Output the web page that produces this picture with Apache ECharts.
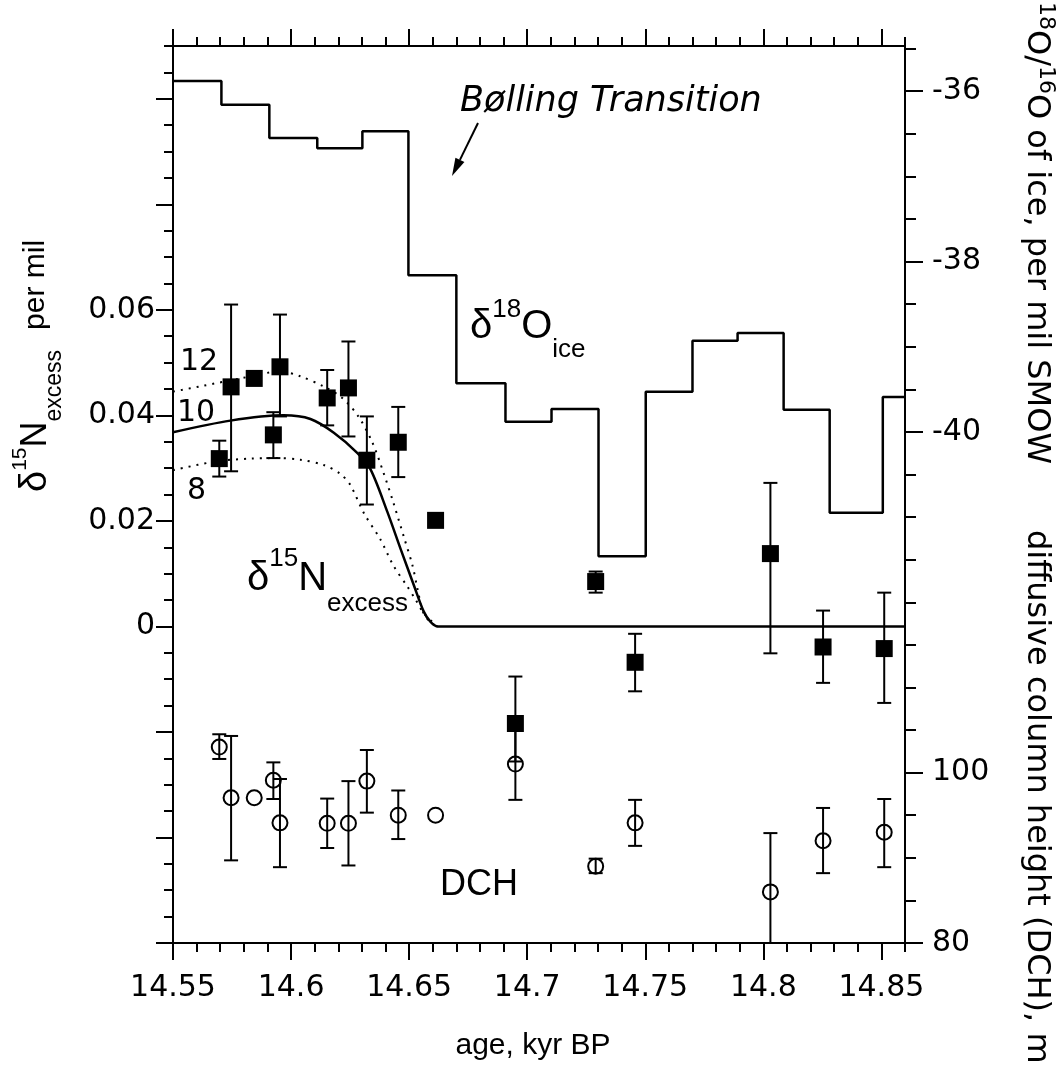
<!DOCTYPE html>
<html>
<head>
<meta charset="utf-8">
<script src="https://cdn.jsdelivr.net/npm/echarts@6/dist/echarts.min.js"></script>
<style>
  html, body { margin: 0; padding: 0; background: #fff; }
  #chart { width: 1062px; height: 1066px; }
</style>
</head>
<body>
<div id="chart"></div>
<script>
// samples: age (kyr BP), d15N excess (per mil) and DCH (m), with error bar ends
const ages = [14.5696, 14.5746, 14.5844, 14.5925, 14.5953, 14.6153, 14.6243, 14.6321, 14.6454, 14.6612, 14.695, 14.729, 14.7457, 14.803, 14.8253, 14.8512];
const n15Excess = [0.0318, 0.0454, 0.0470, 0.0363, 0.0492, 0.0433, 0.0452, 0.0315, 0.0349, 0.0201, -0.0184, 0.0085, -0.0068, 0.0138, -0.0039, -0.0042];
const n15Low = [0.0284, 0.0294, null, 0.0319, 0.0398, 0.0381, 0.0360, 0.0231, 0.0283, null, -0.0256, 0.0064, -0.0123, -0.0051, -0.0107, -0.0145];
const n15High = [0.0352, 0.0610, null, 0.0406, 0.0591, 0.0486, 0.0540, 0.0398, 0.0416, null, -0.0095, 0.0104, -0.0014, 0.0272, 0.0030, 0.0064];
const dch = [103.0, 97.05, 97.05, 99.1, 94.1, 94.05, 94.05, 99.0, 95.0, 95.0, 101.0, 89.0, 94.1, 86.0, 92.0, 93.0];
const dchLow = [101.6, 89.7, null, 96.9, 88.9, 91.15, 89.1, 95.3, 92.2, null, 96.8, 88.2, 91.4, 78.0, 88.2, 88.9];
const dchHigh = [104.5, 104.3, null, 101.2, 99.25, 96.95, 99.0, 102.65, 97.9, null, 105.2, 89.9, 96.8, 92.9, 95.85, 96.9];

// d18O of ice, one value per depth interval (start age of each step)
const o18Start = [14.55, 14.5705, 14.5908, 14.6111, 14.6302, 14.6497, 14.67, 14.6908, 14.7103, 14.7302, 14.7502, 14.77, 14.7891, 14.8086, 14.8281, 14.8506];
const o18Ice = [-35.88, -36.16, -36.55, -36.67, -36.47, -38.16, -39.43, -39.88, -39.73, -41.46, -39.53, -38.93, -38.84, -39.74, -40.95, -39.59];

// model d15N excess curves for DCH = 10, 12, 8 m
const model10Age = [14.55, 14.5743, 14.5969, 14.6082, 14.6181, 14.628, 14.6336, 14.6407, 14.6463, 14.652, 14.6562, 14.659, 14.6619, 14.86];
const model10 = [0.0368, 0.0390, 0.0400, 0.0393, 0.0367, 0.0329, 0.0298, 0.0218, 0.0148, 0.0078, 0.0028, 0.0009, 0, 0];
const model12Age = [14.55, 14.5628, 14.5785, 14.5955, 14.6039, 14.6137, 14.6217, 14.6285, 14.6344, 14.6391, 14.6433, 14.6476, 14.6514, 14.6535, 14.656, 14.659, 14.6619];
const model12 = [0.0445, 0.0456, 0.0470, 0.0483, 0.0474, 0.0455, 0.0433, 0.0398, 0.0349, 0.0292, 0.0235, 0.0172, 0.0116, 0.0072, 0.0026, 0.0008, 0];
const model8Age = [14.55, 14.5686, 14.5828, 14.5941, 14.6039, 14.6138, 14.6209, 14.6251, 14.6308, 14.6378, 14.6435, 14.6492, 14.6527, 14.6562, 14.6619];
const model8 = [0.0296, 0.0313, 0.0318, 0.0319, 0.0316, 0.0306, 0.0289, 0.0268, 0.0215, 0.0165, 0.0114, 0.0076, 0.0051, 0.0025, 0];

// axis ranges and tick labels
const ageMin = 14.55, ageMax = 14.86;
const ageLabels = [14.55, 14.6, 14.65, 14.7, 14.75, 14.8, 14.85];
const n15Min = -0.06, n15Max = 0.11;
const n15Major = [-0.06, -0.04, -0.02, 0, 0.02, 0.04, 0.06, 0.08, 0.1];
const n15Labels = [0, 0.02, 0.04, 0.06];
const o18Min = -46, o18Max = -35.47;
const o18Major = [-46, -44, -40, -38, -36];
const o18Labels = [-36, -38, -40];
const dchMin = 80, dchMax = 185.28;
const dchLabels = [80, 100];

function steps(from, to, step) {
  const out = [];
  for (let i = 0; from + i * step <= to + 1e-9; i++) out.push(+(from + i * step).toFixed(4));
  return out;
}
const ageMinor = steps(ageMin, ageMax, 0.01);
const n15Minor = steps(n15Min, n15Max, 0.005);
const o18Minor = steps(o18Min, -35.5, 0.5);

const FONT = "'DejaVu Sans'";
const SANS = "'Liberation Sans'";
const black = '#000';
const labelStyle = { color: black, fontFamily: FONT, fontSize: 30 };

function tickAxis(pos, ticks, len, showLine, labels, margin) {
  return {
    type: 'value', position: pos,
    axisLine: { show: showLine, onZero: false, lineStyle: { color: black, width: 2 } },
    axisTick: { show: true, customValues: ticks, length: len, lineStyle: { color: black, width: 2 } },
    axisLabel: labels ? Object.assign({ show: true, customValues: labels, margin: margin }, labelStyle) : { show: false },
    splitLine: { show: false }
  };
}

const xAxes = [
  tickAxis('bottom', ageMinor, 9, true),
  tickAxis('bottom', ageLabels, 17, false, ageLabels, 30),
  tickAxis('top', ageMinor, 9, true),
  tickAxis('top', ageLabels, 17, false)
].map(a => Object.assign(a, { min: ageMin, max: ageMax }));

const yAxes = [
  Object.assign(tickAxis('left', n15Minor, 9, true), { min: n15Min, max: n15Max }),
  Object.assign(tickAxis('left', n15Major, 17, false, n15Labels, 18), { min: n15Min, max: n15Max }),
  Object.assign(tickAxis('right', o18Minor, 11, true), { min: o18Min, max: o18Max }),
  Object.assign(tickAxis('right', o18Major, 18, false, o18Labels, 27), { min: o18Min, max: o18Max }),
  Object.assign(tickAxis('right', [], 0, false, dchLabels, 27), { min: dchMin, max: dchMax, axisTick: { show: false } })
];

function errorBars(yIndex, low, high) {
  const data = [];
  ages.forEach((a, i) => { if (low[i] != null) data.push([a, low[i], high[i]]); });
  return {
    type: 'custom', xAxisIndex: 0, yAxisIndex: yIndex, data: data, clip: true, silent: true, z: 3,
    encode: { x: 0, y: [1, 2] },
    renderItem: function (params, api) {
      const lo = api.coord([api.value(0), api.value(1)]);
      const hi = api.coord([api.value(0), api.value(2)]);
      const style = { stroke: black, lineWidth: 2 };
      const cap = 7;
      return {
        type: 'group', children: [
          { type: 'line', shape: { x1: lo[0], y1: lo[1], x2: hi[0], y2: hi[1] }, style: style },
          { type: 'line', shape: { x1: lo[0] - cap, y1: lo[1], x2: lo[0] + cap, y2: lo[1] }, style: style },
          { type: 'line', shape: { x1: hi[0] - cap, y1: hi[1], x2: hi[0] + cap, y2: hi[1] }, style: style }
        ]
      };
    }
  };
}

const pairs = (xs, ys) => xs.map((x, i) => [x, ys[i]]);

// text helper: lays pieces one after another along a (rotated) baseline
const measureCtx = document.createElement('canvas').getContext('2d');
function textRun(x0, y0, rot, pieces) {
  const dx = Math.cos(rot), dy = -Math.sin(rot);
  const ux = -Math.sin(rot), uy = -Math.cos(rot);
  let adv = 0;
  const out = [];
  pieces.forEach(p => {
    if (p.gap) { adv += p.gap; return; }
    const fam = p.family || SANS;
    const fstyle = p.italic ? 'italic' : 'normal';
    measureCtx.font = fstyle + ' ' + p.size + 'px ' + fam;
    const w = measureCtx.measureText(p.t).width;
    const s = adv + w / 2, u = p.up || 0;
    out.push({
      type: 'text', silent: true, rotation: rot,
      x: x0 + dx * s + ux * u, y: y0 + dy * s + uy * u,
      style: {
        text: p.t, fill: black, fontSize: p.size, fontFamily: fam, fontStyle: fstyle,
        align: 'center', verticalAlign: 'middle', textAlign: 'center', textVerticalAlign: 'middle'
      }
    });
    adv += w;
  });
  return out;
}

function arrow(x1, y1, x2, y2) {
  const ang = Math.atan2(y2 - y1, x2 - x1);
  const len = 18, half = 5;
  const bx = x2 - Math.cos(ang) * len, by = y2 - Math.sin(ang) * len;
  const px = -Math.sin(ang) * half, py = Math.cos(ang) * half;
  return [
    { type: 'line', silent: true, shape: { x1: x1, y1: y1, x2: bx, y2: by }, style: { stroke: black, lineWidth: 2 } },
    { type: 'polygon', silent: true, shape: { points: [[x2, y2], [bx + px, by + py], [bx - px, by - py]] }, style: { fill: black } }
  ];
}

const graphics = [].concat(
  // left axis title
  textRun(36, 492, Math.PI / 2, [
    { t: 'δ', size: 38 }, { t: '15', size: 21, up: 16 }, { t: 'N', size: 36 },
    { t: 'excess', size: 23, up: -19 }, { gap: 20 }, { t: 'per mil', size: 30 }
  ]),
  // right axis titles
  textRun(1036, 2, -Math.PI / 2, [
    { t: '18', size: 22, up: 10, family: FONT }, { t: 'O/', size: 32, family: FONT },
    { t: '16', size: 22, up: 10, family: FONT }, { t: 'O of ice, per mil SMOW', size: 32, family: FONT }
  ]),
  textRun(1036, 530, -Math.PI / 2, [{ t: 'diffusive column height (DCH), m', size: 32, family: FONT }]),
  // bottom title
  [{ type: 'text', silent: true, x: 533, y: 1046,
     style: { text: 'age, kyr BP', fill: black, fontSize: 30, fontFamily: SANS,
              align: 'center', verticalAlign: 'middle', textAlign: 'center', textVerticalAlign: 'middle' } }],
  // in-plot labels
  textRun(460, 102, 0, [{ t: 'Bølling Transition', size: 35, italic: true, family: FONT }]),
  arrow(478, 123, 452, 176),
  textRun(470, 327, 0, [
    { t: 'δ', size: 40 }, { t: '18', size: 26, up: 17 }, { t: 'O', size: 40 }, { t: 'ice', size: 26, up: -23 }
  ]),
  textRun(247, 579, 0, [
    { t: 'δ', size: 40 }, { t: '15', size: 26, up: 20 }, { t: 'N', size: 40 }, { t: 'excess', size: 26, up: -25 }
  ]),
  textRun(440, 885, 0, [{ t: 'DCH', size: 36 }]),
  textRun(180, 362, 0, [{ t: '12', size: 30, family: FONT }]),
  textRun(177, 413, 0, [{ t: '10', size: 30, family: FONT }]),
  textRun(187, 491, 0, [{ t: '8', size: 30, family: FONT }])
);

const chart = echarts.init(document.getElementById('chart'), null, { renderer: 'canvas' });
chart.setOption({
  animation: false,
  backgroundColor: '#fff',
  grid: { left: 173, right: 157, top: 46, bottom: 123, containLabel: false, outerBoundsMode: 'none' },
  xAxis: xAxes,
  yAxis: yAxes,
  series: [
    {
      type: 'line', xAxisIndex: 0, yAxisIndex: 2, step: 'end', symbol: 'none', silent: true, z: 2,
      lineStyle: { color: black, width: 2.5 },
      data: pairs(o18Start, o18Ice).concat([[ageMax, o18Ice[o18Ice.length - 1]]])
    },
    {
      type: 'line', xAxisIndex: 0, yAxisIndex: 0, symbol: 'none', smooth: 0.3, silent: true, z: 2,
      lineStyle: { color: black, width: 2.5 }, data: pairs(model10Age, model10)
    },
    {
      type: 'line', xAxisIndex: 0, yAxisIndex: 0, symbol: 'none', smooth: 0.3, silent: true, z: 2,
      lineStyle: { color: black, width: 2, type: [2, 6] }, data: pairs(model12Age, model12)
    },
    {
      type: 'line', xAxisIndex: 0, yAxisIndex: 0, symbol: 'none', smooth: 0.3, silent: true, z: 2,
      lineStyle: { color: black, width: 2, type: [2, 6] }, data: pairs(model8Age, model8)
    },
    errorBars(0, n15Low, n15High),
    errorBars(4, dchLow, dchHigh),
    {
      type: 'scatter', xAxisIndex: 0, yAxisIndex: 0, symbol: 'rect', symbolSize: 17, silent: true, z: 4,
      itemStyle: { color: black, opacity: 1 }, data: pairs(ages, n15Excess)
    },
    {
      type: 'scatter', xAxisIndex: 0, yAxisIndex: 4, symbol: 'circle', symbolSize: 15, silent: true, z: 4,
      itemStyle: { color: 'rgba(0,0,0,0)', borderColor: black, borderWidth: 2, opacity: 1 }, data: pairs(ages, dch)
    }
  ],
  graphic: { elements: graphics }
});
</script>
</body>
</html>
